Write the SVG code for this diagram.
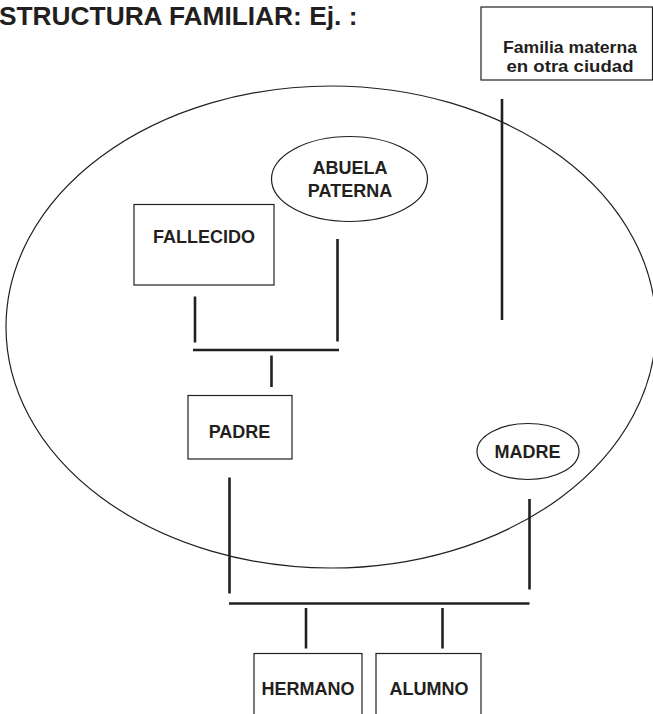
<svg xmlns="http://www.w3.org/2000/svg" width="653" height="714" viewBox="0 0 653 714">
<style>
.node{fill:none;stroke:#231f20;stroke-width:1.2}
.lbl{font-family:"Liberation Sans",Arial,sans-serif;font-weight:bold;font-size:18px;fill:#231f20;text-anchor:middle}
.sm{font-size:16.5px}
.ttl{font-family:"Liberation Sans",Arial,sans-serif;font-weight:bold;font-size:26.3px;fill:#231f20}
.con{stroke:#231f20;stroke-width:2.6;fill:none}
</style>
<rect width="653" height="714" fill="#ffffff"/>
<text class="ttl" x="-1" y="25">STRUCTURA FAMILIAR: Ej. :</text>
<g id="familia">
<ellipse cx="331" cy="327" rx="325" ry="241" fill="none" stroke="#231f20" stroke-width="1.2"/>
</g>
<g id="familia-materna">
<rect class="node" x="481" y="7" width="171.5" height="73"/>
<text class="lbl sm" x="570" y="53" textLength="134" lengthAdjust="spacingAndGlyphs">Familia materna</text>
<text class="lbl sm" x="570" y="72" textLength="127" lengthAdjust="spacingAndGlyphs">en otra ciudad</text>
</g>
<g id="abuela-paterna">
<ellipse class="node" cx="349.5" cy="179" rx="78" ry="42.5"/>
<text class="lbl" x="350" y="174">ABUELA</text>
<text class="lbl" x="350" y="197">PATERNA</text>
</g>
<g id="fallecido">
<rect class="node" x="134" y="204.5" width="140" height="80.5"/>
<text class="lbl" x="204" y="243">FALLECIDO</text>
</g>
<g id="padre">
<rect class="node" x="188" y="395.5" width="104" height="63.5"/>
<text class="lbl" x="239.5" y="437.5">PADRE</text>
</g>
<g id="madre">
<ellipse class="node" cx="528" cy="451.5" rx="51" ry="28"/>
<text class="lbl" x="527.5" y="457.5">MADRE</text>
</g>
<g id="hermano">
<rect class="node" x="254" y="653.5" width="108" height="70"/>
<text class="lbl" x="308" y="695">HERMANO</text>
</g>
<g id="alumno">
<rect class="node" x="376" y="653.5" width="105" height="70"/>
<text class="lbl" x="429" y="695">ALUMNO</text>
</g>
<g id="connectors">
<line class="con" x1="502" y1="99" x2="502" y2="320"/>
<line class="con" x1="195" y1="296.5" x2="195" y2="342.5"/>
<line class="con" x1="337.5" y1="239" x2="337.5" y2="341.5"/>
<line class="con" x1="193" y1="350" x2="339" y2="350"/>
<line class="con" x1="271.5" y1="355.5" x2="271.5" y2="387"/>
<line class="con" x1="229.5" y1="477.5" x2="229.5" y2="593.5"/>
<line class="con" x1="529.5" y1="499" x2="529.5" y2="589.5"/>
<line class="con" x1="229" y1="603.5" x2="529.5" y2="603.5"/>
<line class="con" x1="306" y1="608" x2="306" y2="648.5"/>
<line class="con" x1="442.5" y1="608" x2="442.5" y2="648.5"/>
</g>
</svg>
